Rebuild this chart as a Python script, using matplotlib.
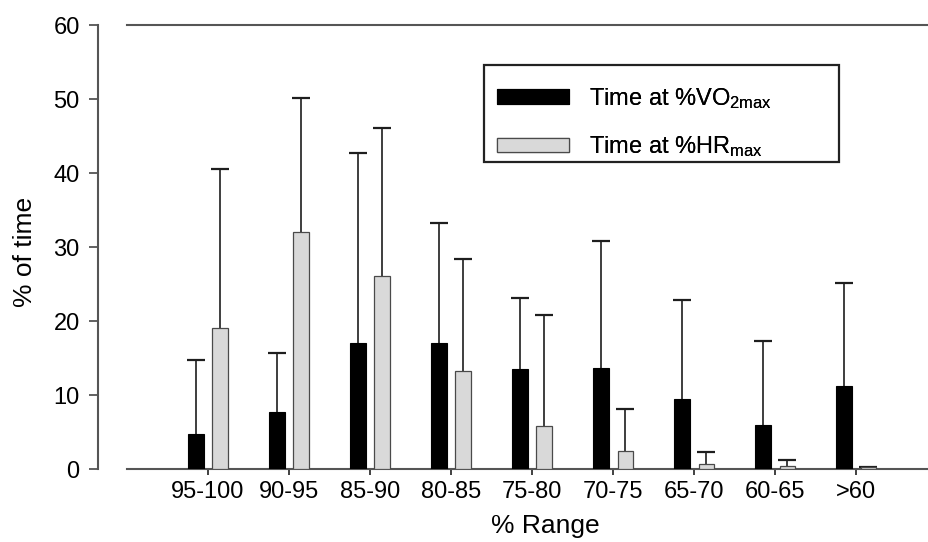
import numpy as np
import matplotlib
matplotlib.use("Agg")
import matplotlib.pyplot as plt
from matplotlib.patches import Rectangle

plt.rcParams['font.family'] = ['Liberation Sans', 'DejaVu Sans']
plt.rcParams['mathtext.fontset'] = 'custom'
plt.rcParams['mathtext.rm'] = 'Liberation Sans'
plt.rcParams['mathtext.it'] = 'Liberation Sans:italic'

# Mean % of time spent in each intensity range, with upward SD
ranges = ['95-100', '90-95', '85-90', '80-85', '75-80', '70-75', '65-70', '60-65', '>60']
vo2_mean = [4.7, 7.8, 17.1, 17.0, 13.6, 13.7, 9.5, 6.0, 11.2]
vo2_sd = [10.0, 7.9, 25.6, 16.2, 9.6, 17.1, 13.4, 11.3, 14.0]
hr_mean = [19.1, 32.1, 26.1, 13.3, 5.8, 2.5, 0.7, 0.4, 0.27]
hr_sd = [21.4, 18.0, 20.0, 15.1, 15.1, 5.6, 1.7, 0.9, 0.0]

W, H = 929, 542
fig = plt.figure(figsize=(W / 100, H / 100), dpi=100)
ax = fig.add_axes([127.3 / W, 1 - 469.3 / H, 1 - 127.3 / W, (469.3 - 25) / H])

x = np.arange(len(ranges))
bw = 0.194
off = 0.152
axis_col = '#555555'

ax.bar(x - off, vo2_mean, bw, color='black', edgecolor='black', linewidth=0.8, zorder=3)
ax.bar(x + off, hr_mean, bw, color='#d9d9d9', edgecolor='#4a4a4a', linewidth=0.9, zorder=3)

# one-sided (upper) error bars
for xs, m, sd in [(x - off, vo2_mean, vo2_sd), (x + off, hr_mean, hr_sd)]:
    eb = ax.errorbar(xs, m, yerr=[np.zeros(len(sd)), sd], fmt='none', ecolor='#1e1e1e',
                     elinewidth=1.2, capsize=6.2, capthick=1.6, zorder=2)
    eb.lines[1][0].set_visible(False)

ax.set_xlim(-0.996, 8.9)
ax.set_ylim(0, 60)
ax.set_yticks(range(0, 61, 10))
ax.set_xticks(x)
ax.set_xticklabels(ranges)

ax.spines['right'].set_visible(False)
for s in ['left', 'bottom', 'top']:
    ax.spines[s].set_color(axis_col)
    ax.spines[s].set_linewidth(1.5)
ax.spines['left'].set_position(('outward', 21.3))

ax.tick_params(axis='y', length=6.5, width=1.3, color=axis_col, pad=6.5, labelsize=17)
ax.tick_params(axis='x', length=4, width=1.3, color='#333333', pad=4.5, labelsize=17)

ax.set_ylabel('% of time', fontsize=19)
ax.yaxis.set_label_coords(-0.113, 0.49)
ax.set_xlabel('% Range', fontsize=19)
ax.xaxis.set_label_coords(0.521, -0.1)

leg = ax.legend(['Time at %VO$_{\\mathrm{2max}}$', 'Time at %HR$_{\\mathrm{max}}$'],
                loc='upper left', bbox_to_anchor=(497.3 / W, 1 - 86 / H),
                bbox_transform=fig.transFigure, frameon=False, fontsize=17,
                handlelength=3.05, handleheight=0.57, handletextpad=0.85,
                labelspacing=1.0, borderpad=0, borderaxespad=0)
ax.add_artist(leg)

# legend frame, wider than its content
fig.add_artist(Rectangle((484 / W, 1 - 162 / H), (839 - 484) / W, (162 - 65) / H,
                         transform=fig.transFigure, fill=False, edgecolor='#222222',
                         linewidth=1.6))

fig.savefig('out.png', dpi=100)
